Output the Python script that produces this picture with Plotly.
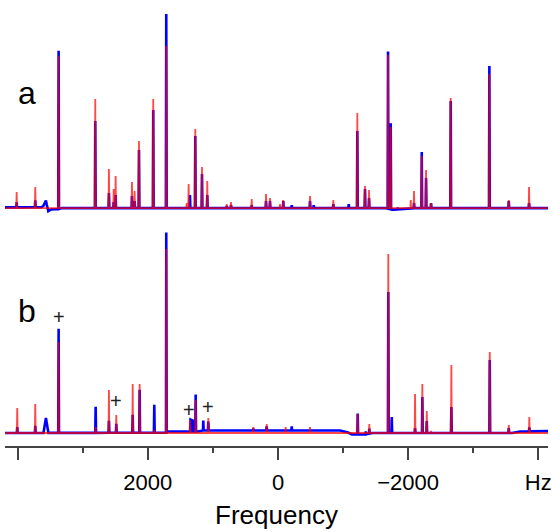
import numpy as np
import plotly.graph_objects as go

# --- panel a: peak positions (Hz) and heights (arb. units) ---
a_red_hz = [4016, 3730, 3371, 2808, 2598, 2525, 2495, 2244, 2203, 2136, 1917, 1717, 1403, 1373,
            1271, 1168, 1087, 788, 722, 404, 184, 123, -31, -81, -492, -850, -1219, -1337, -1399,
            -1691, -1732, -2040, -2090, -2209, -2275, -2352, -2654, -3248, -3546, -3858]
a_red_h = [16, 21, 152, 109, 39, 19, 32, 26, 17, 67, 109, 162, 5, 24,
           79, 41, 27, 4, 6, 9, 14, 10, 4, 8, 12, 8, 95, 22, 18,
           153, 81, 8, 17, 52, 38, 5, 110, 134, 8, 21]
a_blue_hz = [4016, 3730, 3371, 2808, 2598, 2525, 2495, 2244, 2203, 2136, 1917, 1717, 1353, 1271,
             1168, 1087, 788, 722, 404, 184, 123, -81, -211, -492, -549, -850, -1087, -1219, -1337,
             -1399, -1691, -1732, -1840, -2090, -2209, -2275, -2352, -2654, -3248, -3546, -3858]
a_blue_h = [5, 7, 158, 87, 15, 6, 13, 12, 7, 58, 98, 194, 13, 72,
            34, 13, 2, 3, 3, 7, 7, 7, 3, 7, 3, 4, 4, 77, 19,
            10, 157, 86, 2, 5, 56, 30, 5, 107, 142, 7, 5]
a_blue_base_hz = [4200, 3640, 3607, 3580, 3566, 3552, 3530, 3505, 3478, 3381, 3320,
                  -1650, -1760, -2000, -2100, -4200]
a_blue_base_y = [0.7, 0.8, 2, 6, 7.5, 3, -3, -2, -1.3, -1, 0,
                 0, -1.5, -1, 0, 0]

# --- panel b ---
b_red_hz = [4007, 3730, 3371, 2802, 2598, 2485, 2233, 2126, 1901, 1717, 1353, 1265, 1071,
            380, 174, -118, -492, -1225, -1403, -1695, -2106, -2218, -2286, -2352, -2664,
            -3254, -3546, -3862]
b_red_h = [25, 29, 91, 6, 43, 18, 49, 49, 3, 184, 13, 33, 15,
           6, 9, 6, 6, 19, 9, 179, 39, 49, 22, 2, 68,
           81, 8, 16]
b_blue_hz = [4007, 3730, 3371, 2802, 2598, 2485, 2233, 2126, 1901, 1717, 1265, 1148, 1071,
             380, 174, -211, -1225, -1348, -1403, -1695, -1748, -2106, -2218, -2286, -2664,
             -3254, -3546, -3862]
b_blue_h = [6, 7, 104, 26, 12, 9, 18, 43, 28, 200, 37, 10, 9,
            2, 4, 4, 21, 3, 5, 141, 16, 5, 36, 12, 26,
            73, 5, 4]
b_blue_broad_hz = [3566, 1345, 1310]
b_blue_broad_h = [15, 12, 11]
b_blue_base_hz = [4200, 1721, 1690, 1230, 1153, -953, -1076, -1137, -1337, -1445, -3597, -3720, -4200]
b_blue_base_y = [0, 0.3, 1.5, 1.5, 2.5, 2.5, 0.5, -1.5, -1.5, 0, 0, 1.5, 2]

flat_hz = [4200, -4200]
flat_y = [0, 0]

plus_hz = [3366, 2485, 1373, 1081]
plus_y = [116, 32, 23, 26]


def spectrum(pos, hts, base_x, base_y, w=6, broad_pos=(), broad_h=(), broad_w=38):
    bx = np.array(base_x[::-1], float)
    by = np.array(base_y[::-1], float)
    xs = list(base_x)
    ys = list(base_y)
    for plist, hlist, ww in ((pos, hts, w), (broad_pos, broad_h, broad_w)):
        for p, h in zip(plist, hlist):
            b = float(np.interp(p, bx, by))
            xs += [p + ww, p, p - ww]
            ys += [b, b + h, b]
    order = np.argsort(xs)[::-1]
    return np.array(xs)[order], np.array(ys)[order]


BLUE = "#0000ff"
RED = "rgba(255,0,0,0.72)"

fig = go.Figure()
x, y = spectrum(a_blue_hz, a_blue_h, a_blue_base_hz, a_blue_base_y)
fig.add_trace(go.Scatter(x=x, y=y, yaxis="y2", mode="lines", line=dict(color=BLUE, width=2.6)))
x, y = spectrum(a_red_hz, a_red_h, flat_hz, flat_y)
fig.add_trace(go.Scatter(x=x, y=y, yaxis="y2", mode="lines", line=dict(color=RED, width=1.8)))
x, y = spectrum(b_blue_hz, b_blue_h, b_blue_base_hz, b_blue_base_y,
                broad_pos=b_blue_broad_hz, broad_h=b_blue_broad_h)
fig.add_trace(go.Scatter(x=x, y=y, yaxis="y", mode="lines", line=dict(color=BLUE, width=2.6)))
x, y = spectrum(b_red_hz, b_red_h, flat_hz, flat_y)
fig.add_trace(go.Scatter(x=x, y=y, yaxis="y", mode="lines", line=dict(color=RED, width=1.8)))

FONT = "Liberation Sans, Arial, sans-serif"
for px_, py_ in zip(plus_hz, plus_y):
    fig.add_annotation(x=px_, y=py_, xref="x", yref="y", text="+", showarrow=False,
                       font=dict(family=FONT, size=20, color="#222"))
fig.add_annotation(x=0.0405, y=0.80, xref="paper", yref="paper", text="a", showarrow=False,
                   xanchor="center", yanchor="middle",
                   font=dict(family=FONT, size=32, color="black"))
fig.add_annotation(x=0.0405, y=0.307, xref="paper", yref="paper", text="b", showarrow=False,
                   xanchor="center", yanchor="middle",
                   font=dict(family=FONT, size=32, color="black"))

fig.update_layout(
    width=553, height=532, showlegend=False,
    margin=dict(l=5, r=5, t=5, b=86),
    plot_bgcolor="white", paper_bgcolor="white",
    font=dict(family=FONT, color="black"),
    xaxis=dict(range=[4195, -4149], anchor="y", showgrid=False, zeroline=False,
               automargin=False,
               showline=True, linecolor="#444", linewidth=1.5,
               ticks="outside", ticklen=12, tickwidth=1.5, tickcolor="#444",
               tickvals=[4000, 2000, 0, -2000, -4000],
               ticktext=["", "2000", "0", "\u22122000", "Hz"],
               tickfont=dict(size=22), ticklabelstandoff=4,
               minor=dict(tickvals=[3000, 1000, -1000, -3000], ticks="outside",
                          ticklen=5, tickwidth=1.5, tickcolor="#444"),
               title=dict(text="Frequency", font=dict(size=26), standoff=12)),
    yaxis=dict(domain=[0, 0.499], range=[-13, 207], visible=False),
    yaxis2=dict(domain=[0.51, 1], range=[-13, 203], visible=False),
)

fig.write_html("out.html", config={"displayModeBar": False},
               post_script="document.body.style.margin='0';")
